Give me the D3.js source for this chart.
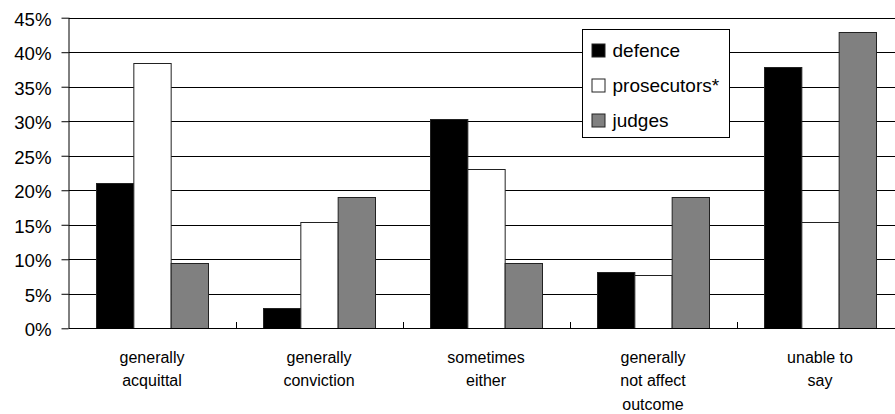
<!DOCTYPE html>
<html>
<head>
<meta charset="utf-8">
<script src="https://cdn.jsdelivr.net/npm/d3@7"></script>
<style>
  html, body { margin: 0; padding: 0; background: #fff; }
  svg { display: block; font-family: "Liberation Sans", Arial, sans-serif; }
</style>
</head>
<body>
<svg id="chart" width="895" height="414"></svg>
<script>
// ---- data ----
const categories = [
  ["generally", "acquittal"],
  ["generally", "conviction"],
  ["sometimes", "either"],
  ["generally", "not affect", "outcome"],
  ["unable to", "say"]
];
const seriesNames = ["defence", "prosecutors*", "judges"];
const defence     = [21.0, 2.9, 30.3, 8.1, 37.8];
const prosecutors = [38.5, 15.4, 23.1, 7.7, 15.4];
const judges      = [9.5, 19.0, 9.5, 19.0, 42.9];
const yTicks = [0, 5, 10, 15, 20, 25, 30, 35, 40, 45];
const yTickLabels = ["0%", "5%", "10%", "15%", "20%", "25%", "30%", "35%", "40%", "45%"];
const seriesColors = ["#000000", "#ffffff", "#808080"];

const seriesValues = [defence, prosecutors, judges];

// ---- layout ----
const svg = d3.select("#chart");
const W = 895;
const plotLeft = 68.5, bandW = 167, plotBottom = 328.3, plotTop = 17.7;

const catIdx = categories.map((d, i) => i);
const x0 = d3.scaleBand().domain(catIdx).range([plotLeft, plotLeft + bandW * categories.length]).paddingInner(0).paddingOuter(0);
const x1 = d3.scaleBand().domain(seriesNames).range([27.5, bandW - 27.5]).padding(0);
const y = d3.scaleLinear().domain([0, 45]).range([plotBottom, plotTop]);

// gridlines
svg.append("g").selectAll("line").data(yTicks.slice(1)).join("line")
  .attr("x1", plotLeft).attr("x2", W)
  .attr("y1", d => Math.round(y(d)) + 0.5).attr("y2", d => Math.round(y(d)) + 0.5)
  .attr("stroke", "#000").attr("stroke-width", 1);

// bars
const groups = svg.append("g").selectAll("g").data(catIdx).join("g")
  .attr("transform", i => `translate(${x0(i)},0)`);
groups.selectAll("rect")
  .data(i => seriesNames.map((s, k) => ({ s, k, v: seriesValues[k][i] })))
  .join("rect")
  .attr("x", d => x1(d.s) + 0.5)
  .attr("y", d => Math.round(y(d.v)) + 0.5)
  .attr("width", x1.bandwidth())
  .attr("height", d => Math.round(plotBottom) - Math.round(y(d.v)))
  .attr("fill", d => seriesColors[d.k])
  .attr("stroke", "#222").attr("stroke-width", 1);

// y axis
const yAxis = d3.axisLeft(y).tickValues(yTicks).tickSize(7).tickPadding(10)
  .tickFormat((d, i) => yTickLabels[i]);
const gy = svg.append("g").attr("transform", `translate(${plotLeft},0)`).call(yAxis);
gy.select(".domain").attr("stroke", "#000").attr("d", `M0.5,${plotTop}V${plotBottom}`);
gy.selectAll(".tick line").attr("stroke", "#000");
gy.selectAll(".tick text").attr("font-size", "18.6px").attr("fill", "#000")
  .attr("font-family", "'Liberation Sans', Arial, sans-serif").attr("dy", "0.4em");

// x axis line + category ticks (inside)
svg.append("line").attr("x1", plotLeft).attr("x2", W)
  .attr("y1", Math.round(plotBottom) + 0.5).attr("y2", Math.round(plotBottom) + 0.5)
  .attr("stroke", "#000");
svg.append("g").selectAll("line").data(catIdx.slice(1)).join("line")
  .attr("x1", i => Math.round(x0(i)) + 0.5).attr("x2", i => Math.round(x0(i)) + 0.5)
  .attr("y1", Math.round(plotBottom) - 6).attr("y2", Math.round(plotBottom))
  .attr("stroke", "#000");

// x labels
const lab = svg.append("g").selectAll("text").data(catIdx).join("text")
  .attr("text-anchor", "middle")
  .attr("font-size", "16px").attr("fill", "#000")
  .attr("x", i => x0(i) + bandW / 2);
lab.selectAll("tspan").data(i => categories[i]).join("tspan")
  .attr("x", function() { return d3.select(this.parentNode).attr("x"); })
  .attr("y", (d, j) => 362.5 + j * 23.5)
  .text(d => d);

// legend
const lg = svg.append("g").attr("transform", "translate(582.5,29.5)");
lg.append("rect").attr("width", 147).attr("height", 108)
  .attr("fill", "#fff").attr("stroke", "#000");
const items = lg.selectAll("g").data(seriesNames).join("g")
  .attr("transform", (d, i) => `translate(0,${21 + i * 35})`);
items.append("rect").attr("x", 9.5).attr("y", -6.5).attr("width", 13).attr("height", 13)
  .attr("fill", (d, i) => seriesColors[i]).attr("stroke", "#222");
items.append("text").attr("x", 30).attr("y", 0).attr("dy", "0.36em")
  .attr("font-size", "19px").attr("fill", "#000").text(d => d);
</script>
</body>
</html>
